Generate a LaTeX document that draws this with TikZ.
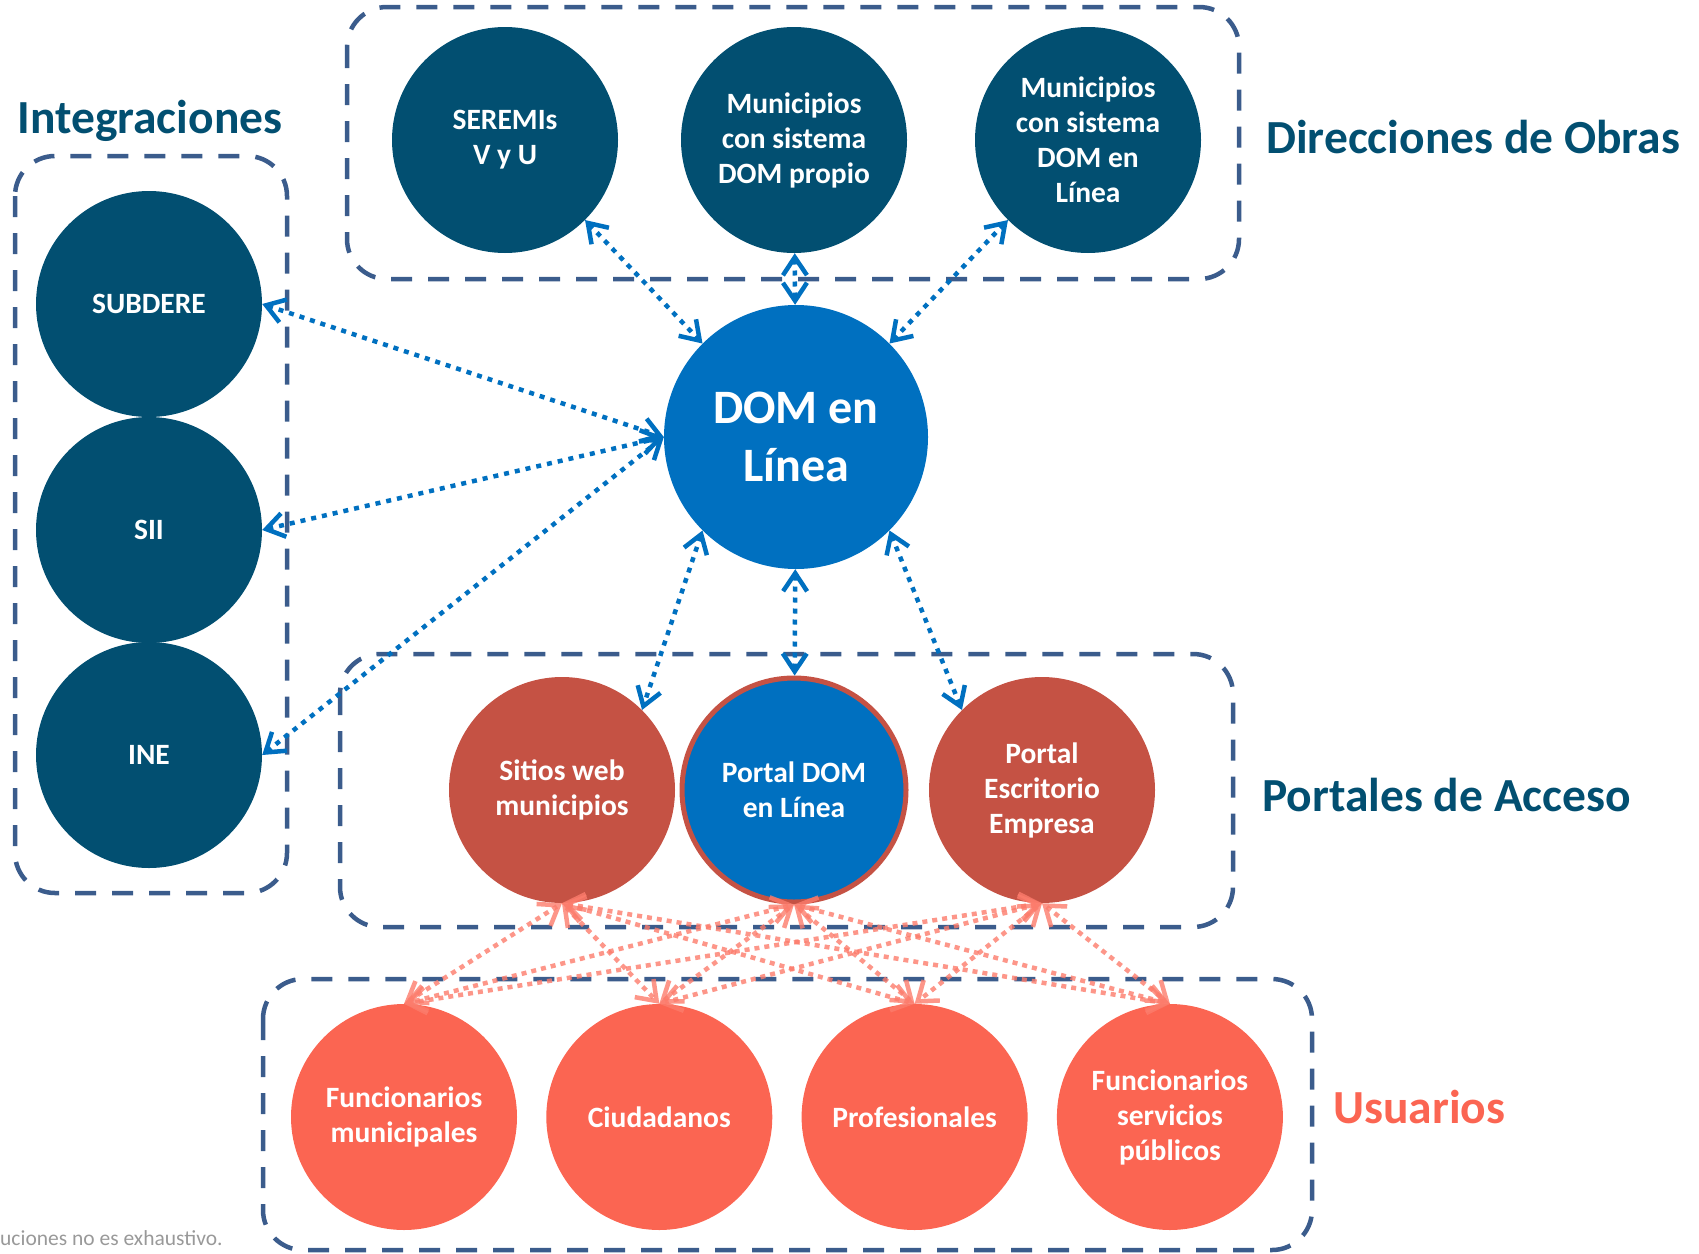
\documentclass[tikz,border=0pt]{standalone}
\usepackage{fontspec}
\setmainfont{Carlito}
\usetikzlibrary{arrows.meta}

\definecolor{navy}{RGB}{2,79,113}
\definecolor{domblue}{RGB}{0,112,192}
\definecolor{brick}{RGB}{197,82,68}
\definecolor{coral}{RGB}{251,101,82}
\definecolor{salmon}{RGB}{252,124,108}
\definecolor{boxline}{RGB}{59,92,140}

\tikzstyle{disc}=[circle, inner sep=0pt, minimum size=226pt, text=white, align=center,
  font=\bfseries\fontsize{29.5}{35}\selectfont]
\tikzstyle{navycircle}=[disc, fill=navy]
\tikzstyle{portalcircle}=[disc, fill=brick]
\tikzstyle{usercircle}=[disc, fill=coral]
\tikzstyle{groupbox}=[draw=boxline, line width=4.5pt, rounded corners=40pt, dash pattern=on 21pt off 16pt]
\tikzstyle{heading}=[anchor=base west, inner sep=0pt, text=navy, font=\bfseries\fontsize{47.5}{56}\selectfont]
\tikzstyle{link}=[{Straight Barb[length=18pt,width=24pt]}-{Straight Barb[length=18pt,width=24pt]},
  draw=domblue, line width=4.5pt, dash pattern=on 5pt off 6pt]
\tikzstyle{userlink}=[{Straight Barb[length=18pt,width=26pt]}-{Straight Barb[length=18pt,width=26pt]},
  draw=salmon, draw opacity=0.8, line width=4.5pt, dash pattern=on 5pt off 5pt]

\begin{document}
\begin{tikzpicture}[x=1pt, y=-1pt]
      \useasboundingbox (0,0) rectangle (1699,1253);
      \draw[groupbox] (347,7) rectangle (1239,279);
      \draw[groupbox] (15,156) rectangle (287,893);
      \draw[groupbox] (340,654) rectangle (1233,927);
      \draw[groupbox] (263,979) rectangle (1312,1250);

      \node[heading, anchor=base] (integ) at (150,133) {Integraciones};
      \node[heading] (obras) at (1266,153) {Direcciones de Obras};
      \node[heading] (acceso) at (1262,811) {Portales de Acceso};
      \node[heading, text=coral] (usu) at (1333,1123) {Usuarios};
      \node[anchor=base west, inner sep=0pt, text=black!40, font=\fontsize{21.5}{26}\selectfont]
        (nota) at (0,1245) {uciones no es exhaustivo.};

      \node[navycircle] (seremi) at (505,140) {SEREMIs\\V y U};
      \node[navycircle] (propio) at (794,140) {Municipios\\con sistema\\DOM propio};
      \node[navycircle] (enlinea) at (1088,140) {Municipios\\con sistema\\DOM en\\Línea};
      \foreach \n/\t/\y in {subdere/SUBDERE/304, sii/SII/530, ine/INE/755} {%
        \node[navycircle] (\n) at (149,\y) {\t};
      }
      \node[disc, fill=domblue, minimum size=264pt, font=\bfseries\fontsize{48}{58}\selectfont]
        (dom) at (796,437) {DOM en\\Línea};

      \node[portalcircle] (sitios) at (562,790) {Sitios web\\municipios};
      \node[disc, fill=domblue, draw=brick, line width=5pt, minimum size=224pt] (portal) at (794,790) {Portal DOM\\en Línea};
      \node[portalcircle] (escritorio) at (1042,790) {Portal\\Escritorio\\Empresa};

      \foreach \n/\t [count=\k] in {fmun/Funcionarios\\municipales, ciud/Ciudadanos,
          prof/Profesionales, fserv/Funcionarios\\servicios\\públicos} {%
        \node[usercircle] (\n) at ({404+255.3*(\k-1)},1117) {\t};
      }

      \draw[link] (seremi.-45) -- (dom.135);
      \draw[link] (propio) -- (dom);
      \draw[link] (enlinea.-135) -- (dom.45);
      \foreach \n in {subdere, sii, ine}
        \draw[link] (\n.east) -- (dom.west);
      \draw[link] (dom.-135) -- (sitios.45);
      \draw[link] (dom) -- (portal);
      \draw[link] (dom.-45) -- (escritorio.135);

      \foreach \p in {sitios, portal, escritorio}
        \foreach \u in {fmun, ciud, prof, fserv}
          \draw[userlink] (\p.south) -- (\u.north);
    \end{tikzpicture}
\end{document}
